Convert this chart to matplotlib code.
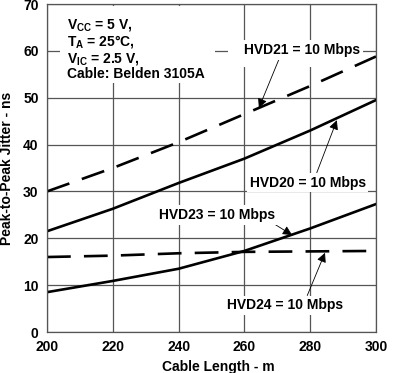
import matplotlib
matplotlib.use("Agg")
import matplotlib.pyplot as plt
from matplotlib.patches import Rectangle

plt.rcParams['font.family'] = ['Liberation Sans', 'DejaVu Sans']
plt.rcParams['font.weight'] = 'bold'
plt.rcParams['mathtext.fontset'] = 'custom'
plt.rcParams['mathtext.rm'] = 'Liberation Sans:bold'
plt.rcParams['mathtext.it'] = 'Liberation Sans:bold'
plt.rcParams['mathtext.bf'] = 'Liberation Sans:bold'

cable_length = [200, 220, 240, 260, 280, 300]
hvd21 = [30.0, 35.0, 40.5, 46.5, 52.5, 58.8]
hvd20 = [21.5, 26.3, 31.8, 37.0, 43.0, 49.5]
hvd23 = [8.5, 10.9, 13.5, 17.3, 22.1, 27.3]
hvd24 = [16.0, 16.3, 16.8, 17.1, 17.2, 17.3]
x_ticks = [200, 220, 240, 260, 280, 300]
y_ticks = [0, 10, 20, 30, 40, 50, 60, 70]

W, H = 395, 373
fig = plt.figure(figsize=(W / 100, H / 100), dpi=100)
ax = fig.add_axes([47 / W, 1 - 332 / H, (376 - 47) / W, (332 - 4) / H])

grid_c = '#555555'
ax.set_xlim(200, 300)
ax.set_ylim(0, 70)
ax.set_xticks(x_ticks)
ax.set_yticks(y_ticks)
ax.grid(True, color=grid_c, lw=0.9)
ax.set_axisbelow(True)
for s in ax.spines.values():
    s.set_color(grid_c)
    s.set_linewidth(0.9)
ax.tick_params(length=0, labelsize=10, pad=6)
for lab in ax.get_xticklabels() + ax.get_yticklabels():
    lab.set_fontweight('bold')

lw = 1.9
ax.plot(cable_length, hvd21, color='black', lw=lw, dashes=(9, 5), zorder=2)
ax.plot(cable_length, hvd20, color='black', lw=lw, zorder=2)
ax.plot(cable_length, hvd23, color='black', lw=lw, zorder=2)
ax.plot(cable_length, hvd24, color='black', lw=lw, dashes=(9, 5), zorder=2)

ax.set_xlabel('Cable Length - m', fontsize=10, fontweight='bold')
ax.set_ylabel('Peak-to-Peak Jitter - ns', fontsize=10, fontweight='bold')
ax.xaxis.set_label_coords(0.52, -0.085)
ax.yaxis.set_label_coords(-0.100, 0.5)

# white masks behind text blocks (hide grid lines)
ax.add_patch(Rectangle((204, 53.1), 47, 16.5, facecolor='white', edgecolor='none', zorder=1.5))
ax.add_patch(Rectangle((255, 56.6), 41, 5.5, facecolor='white', edgecolor='none', zorder=1.5))

ax.text(206.2, 67.3, 'V$_{\\mathrm{CC}}$ = 5 V,\nT$_{\\mathrm{A}}$ = 25°C,\nV$_{\\mathrm{IC}}$ = 2.5 V,\nCable: Belden 3105A',
        fontsize=10, fontweight='bold', va='top', ha='left', linespacing=1.05, zorder=3)

box = dict(facecolor='white', edgecolor='none', pad=2)
arrow = dict(arrowstyle='-|>', color='black', lw=0.6, mutation_scale=14, shrinkA=0, shrinkB=0)
ax.annotate('HVD21 = 10 Mbps', xy=(264.4, 47.8), xytext=(277.5, 60.2),
            fontsize=10, fontweight='bold', ha='center', va='center', bbox=box, zorder=3,
            arrowprops=dict(arrow, relpos=(0.31, 0.0)))
ax.annotate('HVD20 = 10 Mbps', xy=(288.1, 45.2), xytext=(279.2, 31.9),
            fontsize=10, fontweight='bold', ha='center', va='center', bbox=box, zorder=3,
            arrowprops=dict(arrow, relpos=(0.57, 1.0)))
ax.annotate('HVD23 = 10 Mbps', xy=(274.5, 20.7), xytext=(251.8, 25.0),
            fontsize=10, fontweight='bold', ha='center', va='center', bbox=box, zorder=3,
            arrowprops=dict(arrow, relpos=(0.94, 0.1)))
ax.annotate('HVD24 = 10 Mbps', xy=(284.5, 16.9), xytext=(272.4, 5.7),
            fontsize=10, fontweight='bold', ha='center', va='center', bbox=box, zorder=3,
            arrowprops=dict(arrow, relpos=(0.68, 1.0)))

fig.savefig('out.png', dpi=100)
